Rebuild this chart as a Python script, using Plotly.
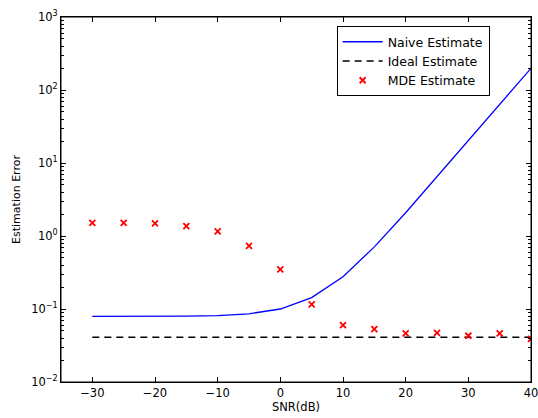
import plotly.graph_objects as go

snr = [-30, -25, -20, -15, -10, -5, 0, 5, 10, 15, 20, 25, 30, 35, 40]
naive = [0.079, 0.079, 0.079, 0.080, 0.081, 0.086, 0.100, 0.143, 0.277, 0.71, 2.08, 6.5, 20, 63, 198]
ideal = [0.041] * len(snr)
mde = [1.51, 1.51, 1.49, 1.37, 1.16, 0.73, 0.35, 0.116, 0.060, 0.053, 0.0465, 0.047, 0.043, 0.0465, 0.039]

x_ticks = [-30, -20, -10, 0, 10, 20, 30, 40]
x_ticktext = ["−30", "−20", "−10", "0", "10", "20", "30", "40"]
y_tickvals = [1e-2, 1e-1, 1e0, 1e1, 1e2, 1e3]
y_ticktext = ["10<sup>−2</sup>", "10<sup>−1</sup>", "10<sup>0</sup>", "10<sup>1</sup>", "10<sup>2</sup>", "10<sup>3</sup>"]
minor_vals = [m * 10 ** e for e in range(-2, 3) for m in range(2, 10)]

font = "DejaVu Sans, Arial, sans-serif"

fig = go.Figure()
fig.add_trace(go.Scatter(x=snr, y=naive, mode="lines", name="Naive Estimate",
                         line=dict(color="#0000ff", width=1.3)))
fig.add_trace(go.Scatter(x=snr, y=ideal, mode="lines", name="Ideal Estimate",
                         line=dict(color="black", width=1.3, dash="7px,5px")))
fig.add_trace(go.Scatter(x=snr, y=mde, mode="markers", name="MDE Estimate",
                         marker=dict(symbol="x-thin", size=6, color="red",
                                     line=dict(color="red", width=1.8))))

fig.update_layout(
    width=538, height=418,
    margin=dict(l=61, r=7, t=17, b=36, autoexpand=False),
    paper_bgcolor="white", plot_bgcolor="white",
    font=dict(family=font, size=11, color="black"),
    showlegend=True,
    legend=dict(x=0.912, y=0.975, xanchor="right", yanchor="top",
                bgcolor="white", bordercolor="black", borderwidth=1,
                font=dict(size=12.5), tracegroupgap=0, itemwidth=40),
    shapes=[dict(type="rect", xref="paper", yref="paper", x0=0, y0=0, x1=1, y1=1,
                 line=dict(color="black", width=1), fillcolor="rgba(0,0,0,0)",
                 layer="above")],
)
fig.update_xaxes(range=[-35, 40], tickvals=x_ticks, ticktext=x_ticktext,
                 ticks="inside", ticklen=5, tickcolor="black", tickwidth=1,
                 ticklabeloverflow="allow", automargin=False,
                 showline=True, linecolor="black", linewidth=1, mirror="allticks",
                 showgrid=False, zeroline=False,
                 title=dict(text="SNR(dB)", standoff=1, font=dict(size=11.5)),
                 tickfont=dict(size=11.5))
fig.update_yaxes(type="log", range=[-2, 3], tickvals=y_tickvals, ticktext=y_ticktext,
                 ticks="inside", ticklen=5, tickcolor="black", tickwidth=1,
                 ticklabeloverflow="allow", automargin=False,
                 minor=dict(tickvals=minor_vals, ticks="inside", ticklen=3, tickcolor="black"),
                 showline=True, linecolor="black", linewidth=1, mirror="allticks",
                 showgrid=False, zeroline=False,
                 title=dict(text="Estimation Error", standoff=8, font=dict(size=11)),
                 tickfont=dict(size=11.5))

fig.write_html("out.html", config={"displayModeBar": False},
               post_script="document.body.style.margin='0';document.body.style.overflow='hidden';")
